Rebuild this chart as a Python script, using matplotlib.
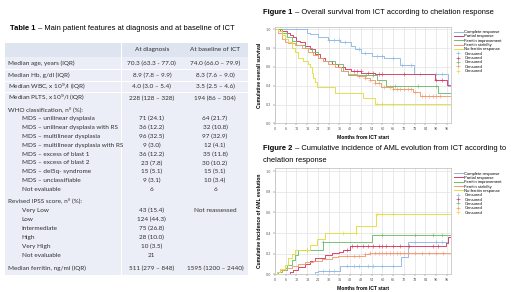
import numpy as np
import matplotlib
matplotlib.use("Agg")
import matplotlib.pyplot as plt
from matplotlib.lines import Line2D
import matplotlib.patches as patches

W, H = 520, 292

# ---- table data ----
col_headers = ["At diagnosis", "At baseline of ICT"]
top_rows = ["Median age, years (IQR)", "Median Hb, g/dl (IQR)",
            "Median WBC, x 10$^9$/l (IQR)", "Median PLTS, x 10$^9$/l (IQR)"]
top_diag = ["70.3 (63.3 - 77.0)", "8.9 (7.8 – 9.9)", "4.0 (3.0 – 5.4)", "228 (128 – 328)"]
top_ict = ["74.0 (66.0 – 79.9)", "8.3 (7.6 – 9.0)", "3.5 (2.5 – 4.6)", "194 (86 – 304)"]

who_title = "WHO classification, n° (%):"
who_rows = ["MDS – unilinear dysplasia", "MDS – unilinear dysplasia with RS",
            "MDS – multilinear dysplasia", "MDS – multilinear dysplasia with RS",
            "MDS – excess of blast 1", "MDS – excess of blast 2",
            "MDS – del5q- syndrome", "MDS – unclassifiable", "Not evaluable"]
who_diag = ["71 (24.1)", "36 (12.2)", "96 (32.5)", "9 (3.0)", "36 (12.2)",
            "23 (7.8)", "15 (5.1)", "9 (3.1)", "6"]
who_ict = ["64 (21.7)", "32 (10.8)", "97 (32.9)", "12 (4.1)", "35 (11.8)",
           "30 (10.2)", "15 (5.1)", "10 (3.4)", "6"]

ipss_title = "Revised IPSS score, n° (%):"
ipss_rows = ["Very Low", "Low", "Intermediate", "High", "Very High", "Not evaluable"]
ipss_diag = ["43 (15.4)", "124 (44.3)", "75 (26.8)", "28 (10.0)", "10 (3.5)", "21"]
ipss_ict = "Not reassessed"

ferr_row = "Median ferritin, ng/ml (IQR)"
ferr_diag = "511 (279 – 848)"
ferr_ict = "1595 (1200 – 2440)"

# ---- survival curves (figure 1) ----
groups = ["Complete response", "Partial response", "Ferritin improvement",
          "Ferritin stability", "No ferritin response"]
colors = ["#8fb9e6", "#d93a62", "#6dbd6d", "#f59a6c", "#e3de3c"]

os_t = [
    [0, 17.6, 19.5, 24, 29.7, 36.2, 42.7, 44.6, 48.3, 53.9, 61, 70, 77.5, 96.6],
    [0, 2.8, 6.5, 8.4, 10, 12, 14, 16.7, 19.5, 22.3, 25, 27.9, 31.6, 35, 39, 42.7, 48.3, 55.7, 89.4, 95.9],
    [0, 3.7, 6.5, 9.3, 12, 16.7, 20.4, 24, 27, 33.4, 38, 40.9, 57, 62, 91],
    [0, 1.9, 3.7, 5.6, 7.4, 11, 15, 18.6, 21, 24, 27, 29.7, 33.4, 37, 41, 46, 50, 53, 56, 59, 66, 77, 81],
    [0, 1.9, 3.7, 5.6, 7.4, 9.3, 11, 13, 15.8, 18.6, 19.5, 20.4, 21.4, 22.3, 23.2, 33.5, 49, 56],
]
os_s = [
    [1, .96, .95, .92, .89, .86, .82, .79, .75, .72, .69, .62, .52, .40],
    [1, .98, .96, .94, .92, .88, .86, .82, .79, .74, .70, .66, .63, .60, .58, .56, .54, .52, .46, .41],
    [1, .96, .92, .88, .83, .80, .76, .70, .66, .63, .56, .51, .46, .40, .32],
    [1, .96, .90, .86, .85, .83, .80, .76, .73, .70, .66, .63, .60, .56, .52, .50, .48, .46, .43, .39, .36, .33, .29],
    [1, .98, .94, .90, .86, .80, .76, .70, .66, .63, .60, .54, .48, .44, .39, .32, .27, .21],
]
os_cens = [
    [30, 33, 36, 39, 47, 50, 57, 60, 66, 71, 76, 81, 90, 93],
    [44, 46, 48, 52, 55, 58, 60, 72, 90, 93],
    [51, 55, 67, 80, 90],
    [47, 50, 53, 56, 58, 61, 64, 66, 68, 70, 72, 74, 76, 78, 82, 84, 86, 88, 90, 92],
    [57, 60, 66],
]

# ---- AML incidence (figure 2) ----
aml_t = [
    [0, 22.3, 24, 36.2, 70.4, 74.5, 96.6],
    [0, 8.4, 10, 13, 16.7, 19.5, 22.3, 27.9, 31.6, 36, 38, 41.8, 95.6, 96.6],
    [0, 1.9, 3.7, 6.5, 9.3, 11, 13, 27, 53.9],
    [0, 0.9, 2.8, 5.6, 9.3, 13, 16.7, 21.4, 26, 31.6, 35, 50, 53],
    [0, 0.9, 2.8, 5.6, 7.4, 9.3, 11, 19.5, 23.2, 27.9, 45.5, 56.6],
]
aml_s = [
    [0, .02, .03, .08, .17, .31, .36],
    [0, .02, .04, .07, .10, .13, .16, .19, .21, .22, .24, .27, .30, .36],
    [0, .02, .04, .09, .14, .19, .24, .31, .38],
    [0, .02, .04, .06, .08, .10, .12, .13, .15, .17, .18, .20, .21],
    [0, .02, .05, .09, .16, .20, .24, .28, .34, .40, .47, .58],
]
aml_cens = [
    [27, 30, 33, 40, 44, 47, 52, 55, 60, 66, 78, 90, 93],
    [40, 43, 46, 49, 52, 55, 58, 60, 62, 66, 70, 75, 88, 91],
    [18, 27, 60, 78, 88, 93],
    [40, 44, 47, 50, 53, 56, 58, 60, 62, 64, 66, 68, 70, 72, 74, 78, 82, 86, 90, 94],
    [18, 38, 45, 57, 60, 66],
]
t_end = 97.5
x_ticks = list(range(0, 97, 6))
y_ticks = [0.0, 0.2, 0.4, 0.6, 0.8, 1.0]

fig = plt.figure(figsize=(W / 100, H / 100), dpi=100)
fig.patch.set_facecolor("white")

bg = fig.add_axes([0, 0, 1, 1])
bg.set_xlim(0, W)
bg.set_ylim(H, 0)
bg.axis("off")

TFONT = ["Lato", "DejaVu Sans"]
HFONT = ["Liberation Sans", "DejaVu Sans"]
TXT = "#2e2e2e"


def title_pair(x, y, bold, rest, size=5.0):
    r = fig.canvas.get_renderer()
    t1 = bg.text(x, y, bold, fontsize=size, fontweight="bold", family=HFONT,
                 va="center", ha="left")
    bb = t1.get_window_extent(renderer=r)
    x2 = x + bb.width + 0.5
    bg.text(x2, y, rest, fontsize=size, family=HFONT, va="center", ha="left")


# ---- table ----
title_pair(10, 28, "Table 1", " – Main patient features at diagnosis and at baseline of ICT", 5.45)

x0, x1, x2, x3 = 5, 121.7, 182, 248
c1, c2 = (x1 + x2) / 2, (x2 + x3) / 2
body = "#ebeef6"
head = "#dfe4f1"


def block(ytop, ybot, color):
    for a, b in [(x0, x1), (x1, x2), (x2, x3)]:
        bg.add_patch(patches.Rectangle((a + 0.4, ytop), b - a - 0.8, ybot - ytop,
                                       facecolor=color, edgecolor="none"))


fs = 4.6
block(43, 56.6, head)
bg.text(c1, 49.8, col_headers[0], fontsize=fs, family=TFONT, ha="center", va="center", color=TXT)
bg.text(c2, 49.8, col_headers[1], fontsize=fs, family=TFONT, ha="center", va="center", color=TXT)

row_edges = [(57.4, 69.4), (70.2, 80.8), (81.6, 92.2), (93.0, 103.6)]
for i, (a, b) in enumerate(row_edges):
    block(a, b, body)
    yc = (a + b) / 2
    bg.text(8, yc, top_rows[i], fontsize=fs, family=TFONT, va="center", color=TXT)
    bg.text(c1, yc, top_diag[i], fontsize=fs, family=TFONT, ha="center", va="center", color=TXT)
    bg.text(c2, yc, top_ict[i], fontsize=fs, family=TFONT, ha="center", va="center", color=TXT)

block(104.4, 194.6, body)
bg.text(8, 110, who_title, fontsize=fs, family=TFONT, va="center", color=TXT)
for i, lab in enumerate(who_rows):
    yc = 118.5 + i * 8.9
    bg.text(21.5, yc, lab, fontsize=fs, family=TFONT, va="center", color=TXT)
    bg.text(c1, yc, who_diag[i], fontsize=fs, family=TFONT, ha="center", va="center", color=TXT)
    bg.text(c2, yc, who_ict[i], fontsize=fs, family=TFONT, ha="center", va="center", color=TXT)

block(195.4, 260.6, body)
bg.text(8, 201.8, ipss_title, fontsize=fs, family=TFONT, va="center", color=TXT)
for i, lab in enumerate(ipss_rows):
    yc = 210.7 + i * 8.9
    bg.text(21.5, yc, lab, fontsize=fs, family=TFONT, va="center", color=TXT)
    bg.text(c1, yc, ipss_diag[i], fontsize=fs, family=TFONT, ha="center", va="center", color=TXT)
bg.text(c2, 210.7, ipss_ict, fontsize=fs, family=TFONT, ha="center", va="center", color=TXT)

block(261.4, 275, body)
bg.text(8, 268, ferr_row, fontsize=fs, family=TFONT, va="center", color=TXT)
bg.text(c1, 268, ferr_diag, fontsize=fs, family=TFONT, ha="center", va="center", color=TXT)
bg.text(c2, 268, ferr_ict, fontsize=fs, family=TFONT, ha="center", va="center", color=TXT)

# ---- figure titles ----
title_pair(263, 13, "Figure 1", " – Overall survival from ICT according to chelation response", 5.4)
title_pair(263, 148.5, "Figure 2", " – Cumulative incidence of AML evolution from ICT according to", 5.4)
bg.text(263, 160, "chelation response", fontsize=5.4, family=HFONT, va="center")


def km_axes(rect_px, ts, ss, cens, ylabel):
    l, t, r, b = rect_px
    ax = fig.add_axes([l / W, 1 - b / H, (r - l) / W, (b - t) / H])
    for k in range(5):
        tt = list(ts[k]) + [t_end]
        sv = list(ss[k]) + [ss[k][-1]]
        ax.step(tt, sv, where="post", color=colors[k], lw=0.65)
        ct = np.array(cens[k], dtype=float)
        idx = np.searchsorted(np.array(ts[k]), ct, side="right") - 1
        cy = np.array(ss[k])[idx]
        ax.plot(ct, cy, ls="none", marker="+", ms=2.2, mew=0.4, color=colors[k])
    ax.set_xlim(0, 98)
    ax.set_ylim(0, 1.03)
    ax.set_xticks(x_ticks)
    ax.set_yticks(y_ticks)
    ax.set_yticklabels([f"{v:.1f}" for v in y_ticks])
    ax.tick_params(labelsize=2.4, length=1.2, width=0.3, pad=1.5, colors="#555555")
    ax.grid(True, color="#e2e2e2", lw=0.5)
    ax.set_axisbelow(True)
    for sp in ax.spines.values():
        sp.set_color("#bbbbbb")
        sp.set_linewidth(0.5)
    ax.set_xlabel("Months from ICT start", fontsize=3.6, fontweight="bold",
                  family=HFONT, labelpad=3)
    ax.set_ylabel(ylabel, fontsize=3.6, fontweight="bold", family=HFONT, labelpad=3)
    handles = [Line2D([], [], color=c, lw=0.7) for c in colors]
    handles += [Line2D([], [], color=c, ls="none", marker="+", ms=2.5, mew=0.5) for c in colors]
    labels = groups + ["Censored"] * 5
    ax.legend(handles, labels, loc="upper left", bbox_to_anchor=(1.005, 0.99),
              frameon=False, labelspacing=0.08, handlelength=2.2,
              handletextpad=0.3, borderaxespad=0.2, prop={"family": HFONT, "size": 3.0})
    return ax


km_axes((275, 26.5, 450.5, 123.3), os_t, os_s, os_cens, "Cumulative overall survival")
km_axes((275, 168, 450.5, 274.3), aml_t, aml_s, aml_cens, "Cumulative incidence of AML evolution")

fig.savefig("out.png", dpi=100)
